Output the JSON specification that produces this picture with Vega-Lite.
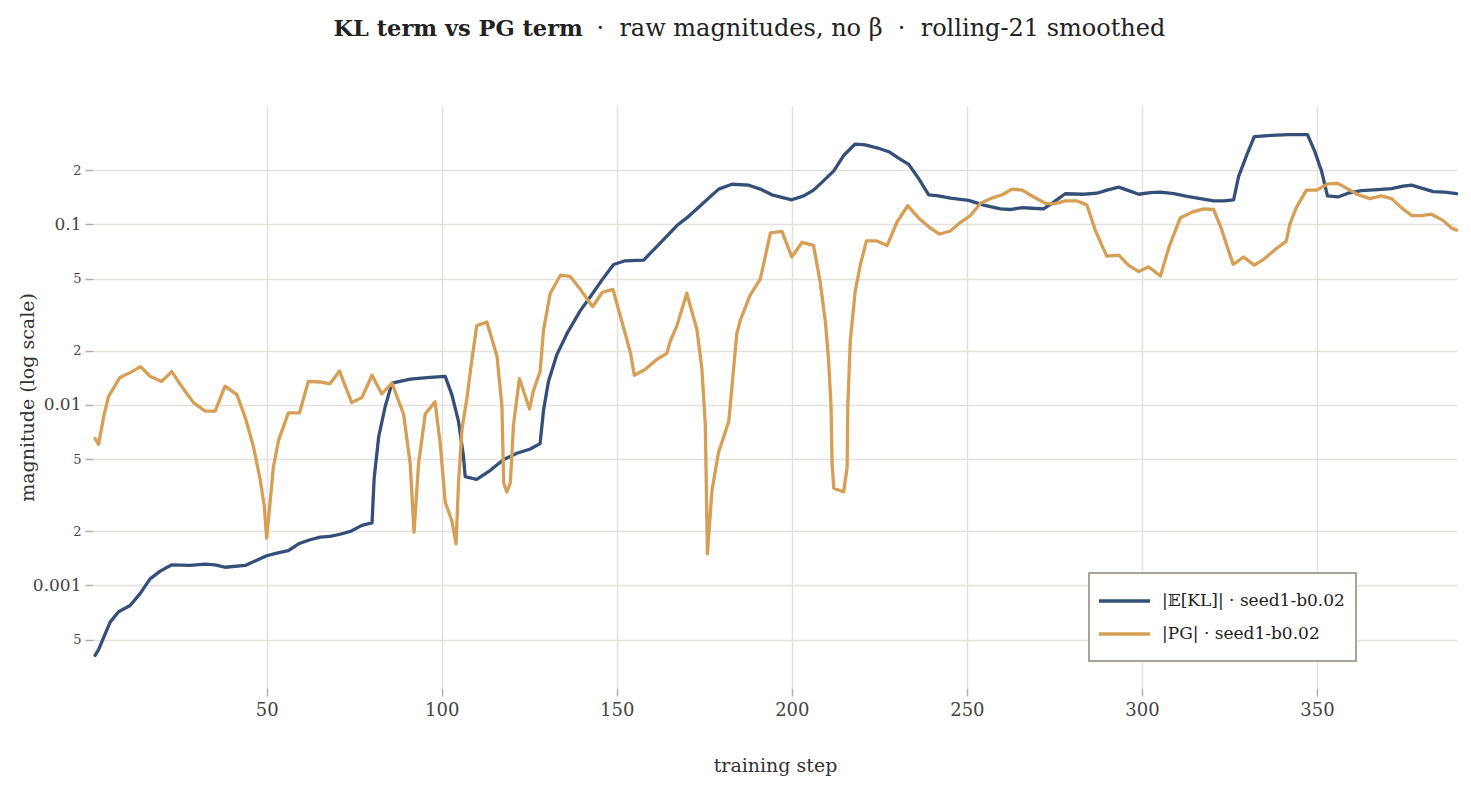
{
  "$schema": "https://vega.github.io/schema/vega-lite/v6.json",
  "width": 1364,
  "height": 582,
  "autosize": {"type": "none"},
  "padding": {"left": 93, "top": 106, "right": 14, "bottom": 100},
  "background": "white",
  "config": {
    "font": "DejaVu Serif",
    "view": {"stroke": null}
  },
  "data": {
    "values": [
      {"step": 1, "v": 0.00041, "s": "|𝔼[KL]| · seed1-b0.02"},
      {"step": 2, "v": 0.00044, "s": "|𝔼[KL]| · seed1-b0.02"},
      {"step": 3.9, "v": 0.00054, "s": "|𝔼[KL]| · seed1-b0.02"},
      {"step": 5.3, "v": 0.000626, "s": "|𝔼[KL]| · seed1-b0.02"},
      {"step": 7.7, "v": 0.000714, "s": "|𝔼[KL]| · seed1-b0.02"},
      {"step": 11, "v": 0.000773, "s": "|𝔼[KL]| · seed1-b0.02"},
      {"step": 13.9, "v": 0.000903, "s": "|𝔼[KL]| · seed1-b0.02"},
      {"step": 16.7, "v": 0.001087, "s": "|𝔼[KL]| · seed1-b0.02"},
      {"step": 19.6, "v": 0.0012, "s": "|𝔼[KL]| · seed1-b0.02"},
      {"step": 22.9, "v": 0.0013, "s": "|𝔼[KL]| · seed1-b0.02"},
      {"step": 28.1, "v": 0.00129, "s": "|𝔼[KL]| · seed1-b0.02"},
      {"step": 32.4, "v": 0.00131, "s": "|𝔼[KL]| · seed1-b0.02"},
      {"step": 35.3, "v": 0.0013, "s": "|𝔼[KL]| · seed1-b0.02"},
      {"step": 38.1, "v": 0.00126, "s": "|𝔼[KL]| · seed1-b0.02"},
      {"step": 43.9, "v": 0.00129, "s": "|𝔼[KL]| · seed1-b0.02"},
      {"step": 47.2, "v": 0.00138, "s": "|𝔼[KL]| · seed1-b0.02"},
      {"step": 50, "v": 0.00146, "s": "|𝔼[KL]| · seed1-b0.02"},
      {"step": 52.9, "v": 0.00151, "s": "|𝔼[KL]| · seed1-b0.02"},
      {"step": 56.2, "v": 0.00156, "s": "|𝔼[KL]| · seed1-b0.02"},
      {"step": 59.1, "v": 0.0017, "s": "|𝔼[KL]| · seed1-b0.02"},
      {"step": 62.4, "v": 0.00179, "s": "|𝔼[KL]| · seed1-b0.02"},
      {"step": 65.3, "v": 0.00185, "s": "|𝔼[KL]| · seed1-b0.02"},
      {"step": 68.1, "v": 0.00187, "s": "|𝔼[KL]| · seed1-b0.02"},
      {"step": 71, "v": 0.00192, "s": "|𝔼[KL]| · seed1-b0.02"},
      {"step": 73.9, "v": 0.00199, "s": "|𝔼[KL]| · seed1-b0.02"},
      {"step": 77.2, "v": 0.00215, "s": "|𝔼[KL]| · seed1-b0.02"},
      {"step": 80.1, "v": 0.00222, "s": "|𝔼[KL]| · seed1-b0.02"},
      {"step": 80.7, "v": 0.0039, "s": "|𝔼[KL]| · seed1-b0.02"},
      {"step": 82, "v": 0.00667, "s": "|𝔼[KL]| · seed1-b0.02"},
      {"step": 83.9, "v": 0.00986, "s": "|𝔼[KL]| · seed1-b0.02"},
      {"step": 85.8, "v": 0.0132, "s": "|𝔼[KL]| · seed1-b0.02"},
      {"step": 91, "v": 0.0139, "s": "|𝔼[KL]| · seed1-b0.02"},
      {"step": 96.7, "v": 0.0142, "s": "|𝔼[KL]| · seed1-b0.02"},
      {"step": 101, "v": 0.0144, "s": "|𝔼[KL]| · seed1-b0.02"},
      {"step": 102.9, "v": 0.0114, "s": "|𝔼[KL]| · seed1-b0.02"},
      {"step": 104.8, "v": 0.0081, "s": "|𝔼[KL]| · seed1-b0.02"},
      {"step": 106.2, "v": 0.00523, "s": "|𝔼[KL]| · seed1-b0.02"},
      {"step": 106.7, "v": 0.004, "s": "|𝔼[KL]| · seed1-b0.02"},
      {"step": 110, "v": 0.00387, "s": "|𝔼[KL]| · seed1-b0.02"},
      {"step": 113.9, "v": 0.00434, "s": "|𝔼[KL]| · seed1-b0.02"},
      {"step": 117.7, "v": 0.00498, "s": "|𝔼[KL]| · seed1-b0.02"},
      {"step": 121.5, "v": 0.0054, "s": "|𝔼[KL]| · seed1-b0.02"},
      {"step": 125.3, "v": 0.0057, "s": "|𝔼[KL]| · seed1-b0.02"},
      {"step": 128.1, "v": 0.0061, "s": "|𝔼[KL]| · seed1-b0.02"},
      {"step": 129.1, "v": 0.0094, "s": "|𝔼[KL]| · seed1-b0.02"},
      {"step": 130.5, "v": 0.0135, "s": "|𝔼[KL]| · seed1-b0.02"},
      {"step": 132.9, "v": 0.019, "s": "|𝔼[KL]| · seed1-b0.02"},
      {"step": 135.8, "v": 0.0249, "s": "|𝔼[KL]| · seed1-b0.02"},
      {"step": 139.6, "v": 0.0333, "s": "|𝔼[KL]| · seed1-b0.02"},
      {"step": 142.4, "v": 0.0396, "s": "|𝔼[KL]| · seed1-b0.02"},
      {"step": 145.8, "v": 0.0493, "s": "|𝔼[KL]| · seed1-b0.02"},
      {"step": 149.1, "v": 0.06, "s": "|𝔼[KL]| · seed1-b0.02"},
      {"step": 152.4, "v": 0.0629, "s": "|𝔼[KL]| · seed1-b0.02"},
      {"step": 157.7, "v": 0.0635, "s": "|𝔼[KL]| · seed1-b0.02"},
      {"step": 161.5, "v": 0.0757, "s": "|𝔼[KL]| · seed1-b0.02"},
      {"step": 167.2, "v": 0.0986, "s": "|𝔼[KL]| · seed1-b0.02"},
      {"step": 170, "v": 0.1087, "s": "|𝔼[KL]| · seed1-b0.02"},
      {"step": 174.8, "v": 0.132, "s": "|𝔼[KL]| · seed1-b0.02"},
      {"step": 179.1, "v": 0.157, "s": "|𝔼[KL]| · seed1-b0.02"},
      {"step": 182.9, "v": 0.167, "s": "|𝔼[KL]| · seed1-b0.02"},
      {"step": 187.7, "v": 0.165, "s": "|𝔼[KL]| · seed1-b0.02"},
      {"step": 191, "v": 0.157, "s": "|𝔼[KL]| · seed1-b0.02"},
      {"step": 194.3, "v": 0.146, "s": "|𝔼[KL]| · seed1-b0.02"},
      {"step": 200, "v": 0.137, "s": "|𝔼[KL]| · seed1-b0.02"},
      {"step": 203.4, "v": 0.144, "s": "|𝔼[KL]| · seed1-b0.02"},
      {"step": 206.2, "v": 0.155, "s": "|𝔼[KL]| · seed1-b0.02"},
      {"step": 208.6, "v": 0.171, "s": "|𝔼[KL]| · seed1-b0.02"},
      {"step": 212, "v": 0.198, "s": "|𝔼[KL]| · seed1-b0.02"},
      {"step": 214.8, "v": 0.241, "s": "|𝔼[KL]| · seed1-b0.02"},
      {"step": 218.1, "v": 0.279, "s": "|𝔼[KL]| · seed1-b0.02"},
      {"step": 221, "v": 0.276, "s": "|𝔼[KL]| · seed1-b0.02"},
      {"step": 224.3, "v": 0.266, "s": "|𝔼[KL]| · seed1-b0.02"},
      {"step": 227.7, "v": 0.253, "s": "|𝔼[KL]| · seed1-b0.02"},
      {"step": 230.5, "v": 0.233, "s": "|𝔼[KL]| · seed1-b0.02"},
      {"step": 233.4, "v": 0.215, "s": "|𝔼[KL]| · seed1-b0.02"},
      {"step": 236.2, "v": 0.18, "s": "|𝔼[KL]| · seed1-b0.02"},
      {"step": 239.1, "v": 0.146, "s": "|𝔼[KL]| · seed1-b0.02"},
      {"step": 241.9, "v": 0.144, "s": "|𝔼[KL]| · seed1-b0.02"},
      {"step": 245.3, "v": 0.14, "s": "|𝔼[KL]| · seed1-b0.02"},
      {"step": 250.5, "v": 0.136, "s": "|𝔼[KL]| · seed1-b0.02"},
      {"step": 254.8, "v": 0.128, "s": "|𝔼[KL]| · seed1-b0.02"},
      {"step": 259.6, "v": 0.122, "s": "|𝔼[KL]| · seed1-b0.02"},
      {"step": 262.4, "v": 0.121, "s": "|𝔼[KL]| · seed1-b0.02"},
      {"step": 265.8, "v": 0.124, "s": "|𝔼[KL]| · seed1-b0.02"},
      {"step": 268.6, "v": 0.123, "s": "|𝔼[KL]| · seed1-b0.02"},
      {"step": 271.9, "v": 0.122, "s": "|𝔼[KL]| · seed1-b0.02"},
      {"step": 274.8, "v": 0.133, "s": "|𝔼[KL]| · seed1-b0.02"},
      {"step": 278.1, "v": 0.148, "s": "|𝔼[KL]| · seed1-b0.02"},
      {"step": 283.4, "v": 0.147, "s": "|𝔼[KL]| · seed1-b0.02"},
      {"step": 287.2, "v": 0.149, "s": "|𝔼[KL]| · seed1-b0.02"},
      {"step": 290, "v": 0.155, "s": "|𝔼[KL]| · seed1-b0.02"},
      {"step": 293.4, "v": 0.161, "s": "|𝔼[KL]| · seed1-b0.02"},
      {"step": 296.2, "v": 0.154, "s": "|𝔼[KL]| · seed1-b0.02"},
      {"step": 299.1, "v": 0.147, "s": "|𝔼[KL]| · seed1-b0.02"},
      {"step": 302.4, "v": 0.15, "s": "|𝔼[KL]| · seed1-b0.02"},
      {"step": 305.3, "v": 0.151, "s": "|𝔼[KL]| · seed1-b0.02"},
      {"step": 309.1, "v": 0.148, "s": "|𝔼[KL]| · seed1-b0.02"},
      {"step": 312.9, "v": 0.143, "s": "|𝔼[KL]| · seed1-b0.02"},
      {"step": 316.7, "v": 0.139, "s": "|𝔼[KL]| · seed1-b0.02"},
      {"step": 320.5, "v": 0.135, "s": "|𝔼[KL]| · seed1-b0.02"},
      {"step": 323.4, "v": 0.135, "s": "|𝔼[KL]| · seed1-b0.02"},
      {"step": 326.2, "v": 0.137, "s": "|𝔼[KL]| · seed1-b0.02"},
      {"step": 327.6, "v": 0.184, "s": "|𝔼[KL]| · seed1-b0.02"},
      {"step": 330.1, "v": 0.247, "s": "|𝔼[KL]| · seed1-b0.02"},
      {"step": 332.1, "v": 0.307, "s": "|𝔼[KL]| · seed1-b0.02"},
      {"step": 337, "v": 0.312, "s": "|𝔼[KL]| · seed1-b0.02"},
      {"step": 341.8, "v": 0.315, "s": "|𝔼[KL]| · seed1-b0.02"},
      {"step": 347.3, "v": 0.315, "s": "|𝔼[KL]| · seed1-b0.02"},
      {"step": 349.4, "v": 0.253, "s": "|𝔼[KL]| · seed1-b0.02"},
      {"step": 351.3, "v": 0.198, "s": "|𝔼[KL]| · seed1-b0.02"},
      {"step": 353, "v": 0.144, "s": "|𝔼[KL]| · seed1-b0.02"},
      {"step": 356, "v": 0.142, "s": "|𝔼[KL]| · seed1-b0.02"},
      {"step": 358.9, "v": 0.149, "s": "|𝔼[KL]| · seed1-b0.02"},
      {"step": 362.7, "v": 0.154, "s": "|𝔼[KL]| · seed1-b0.02"},
      {"step": 367.5, "v": 0.156, "s": "|𝔼[KL]| · seed1-b0.02"},
      {"step": 371.3, "v": 0.158, "s": "|𝔼[KL]| · seed1-b0.02"},
      {"step": 374.6, "v": 0.163, "s": "|𝔼[KL]| · seed1-b0.02"},
      {"step": 377, "v": 0.165, "s": "|𝔼[KL]| · seed1-b0.02"},
      {"step": 379.9, "v": 0.159, "s": "|𝔼[KL]| · seed1-b0.02"},
      {"step": 383.2, "v": 0.152, "s": "|𝔼[KL]| · seed1-b0.02"},
      {"step": 386.5, "v": 0.151, "s": "|𝔼[KL]| · seed1-b0.02"},
      {"step": 389.9, "v": 0.148, "s": "|𝔼[KL]| · seed1-b0.02"},

      {"step": 1, "v": 0.00652, "s": "|PG| · seed1-b0.02"},
      {"step": 2, "v": 0.00605, "s": "|PG| · seed1-b0.02"},
      {"step": 3.4, "v": 0.0085, "s": "|PG| · seed1-b0.02"},
      {"step": 4.8, "v": 0.0111, "s": "|PG| · seed1-b0.02"},
      {"step": 8.1, "v": 0.0142, "s": "|PG| · seed1-b0.02"},
      {"step": 11, "v": 0.0151, "s": "|PG| · seed1-b0.02"},
      {"step": 14, "v": 0.0163, "s": "|PG| · seed1-b0.02"},
      {"step": 16.7, "v": 0.0144, "s": "|PG| · seed1-b0.02"},
      {"step": 20, "v": 0.0135, "s": "|PG| · seed1-b0.02"},
      {"step": 22.9, "v": 0.0153, "s": "|PG| · seed1-b0.02"},
      {"step": 25.8, "v": 0.0126, "s": "|PG| · seed1-b0.02"},
      {"step": 29.1, "v": 0.0103, "s": "|PG| · seed1-b0.02"},
      {"step": 32.4, "v": 0.00925, "s": "|PG| · seed1-b0.02"},
      {"step": 35.3, "v": 0.00925, "s": "|PG| · seed1-b0.02"},
      {"step": 38.1, "v": 0.0127, "s": "|PG| · seed1-b0.02"},
      {"step": 41.5, "v": 0.0114, "s": "|PG| · seed1-b0.02"},
      {"step": 43.9, "v": 0.0085, "s": "|PG| · seed1-b0.02"},
      {"step": 46.2, "v": 0.0059, "s": "|PG| · seed1-b0.02"},
      {"step": 48.1, "v": 0.0039, "s": "|PG| · seed1-b0.02"},
      {"step": 49.3, "v": 0.00277, "s": "|PG| · seed1-b0.02"},
      {"step": 50, "v": 0.00183, "s": "|PG| · seed1-b0.02"},
      {"step": 51, "v": 0.0029, "s": "|PG| · seed1-b0.02"},
      {"step": 51.9, "v": 0.0045, "s": "|PG| · seed1-b0.02"},
      {"step": 53.4, "v": 0.00636, "s": "|PG| · seed1-b0.02"},
      {"step": 56.2, "v": 0.00903, "s": "|PG| · seed1-b0.02"},
      {"step": 59.4, "v": 0.00903, "s": "|PG| · seed1-b0.02"},
      {"step": 61.9, "v": 0.0135, "s": "|PG| · seed1-b0.02"},
      {"step": 65.3, "v": 0.0134, "s": "|PG| · seed1-b0.02"},
      {"step": 68.1, "v": 0.0131, "s": "|PG| · seed1-b0.02"},
      {"step": 70.8, "v": 0.0154, "s": "|PG| · seed1-b0.02"},
      {"step": 74.3, "v": 0.0103, "s": "|PG| · seed1-b0.02"},
      {"step": 77.2, "v": 0.011, "s": "|PG| · seed1-b0.02"},
      {"step": 80.1, "v": 0.0146, "s": "|PG| · seed1-b0.02"},
      {"step": 82.9, "v": 0.0115, "s": "|PG| · seed1-b0.02"},
      {"step": 85.8, "v": 0.0132, "s": "|PG| · seed1-b0.02"},
      {"step": 89.1, "v": 0.0089, "s": "|PG| · seed1-b0.02"},
      {"step": 91, "v": 0.00474, "s": "|PG| · seed1-b0.02"},
      {"step": 92.1, "v": 0.00197, "s": "|PG| · seed1-b0.02"},
      {"step": 93.4, "v": 0.00474, "s": "|PG| · seed1-b0.02"},
      {"step": 95.3, "v": 0.0089, "s": "|PG| · seed1-b0.02"},
      {"step": 98.1, "v": 0.0104, "s": "|PG| · seed1-b0.02"},
      {"step": 99.6, "v": 0.00605, "s": "|PG| · seed1-b0.02"},
      {"step": 101, "v": 0.0029, "s": "|PG| · seed1-b0.02"},
      {"step": 102.9, "v": 0.00228, "s": "|PG| · seed1-b0.02"},
      {"step": 104.1, "v": 0.0017, "s": "|PG| · seed1-b0.02"},
      {"step": 104.8, "v": 0.0037, "s": "|PG| · seed1-b0.02"},
      {"step": 105.8, "v": 0.00736, "s": "|PG| · seed1-b0.02"},
      {"step": 107.2, "v": 0.0109, "s": "|PG| · seed1-b0.02"},
      {"step": 108.6, "v": 0.0177, "s": "|PG| · seed1-b0.02"},
      {"step": 110, "v": 0.0275, "s": "|PG| · seed1-b0.02"},
      {"step": 112.9, "v": 0.0288, "s": "|PG| · seed1-b0.02"},
      {"step": 115.8, "v": 0.0186, "s": "|PG| · seed1-b0.02"},
      {"step": 117.2, "v": 0.00986, "s": "|PG| · seed1-b0.02"},
      {"step": 117.7, "v": 0.0037, "s": "|PG| · seed1-b0.02"},
      {"step": 118.6, "v": 0.00329, "s": "|PG| · seed1-b0.02"},
      {"step": 119.6, "v": 0.0037, "s": "|PG| · seed1-b0.02"},
      {"step": 120.5, "v": 0.00773, "s": "|PG| · seed1-b0.02"},
      {"step": 122.2, "v": 0.014, "s": "|PG| · seed1-b0.02"},
      {"step": 125.1, "v": 0.0095, "s": "|PG| · seed1-b0.02"},
      {"step": 126.2, "v": 0.012, "s": "|PG| · seed1-b0.02"},
      {"step": 128.1, "v": 0.0153, "s": "|PG| · seed1-b0.02"},
      {"step": 129.1, "v": 0.0261, "s": "|PG| · seed1-b0.02"},
      {"step": 131, "v": 0.0416, "s": "|PG| · seed1-b0.02"},
      {"step": 133.9, "v": 0.0523, "s": "|PG| · seed1-b0.02"},
      {"step": 136.7, "v": 0.0515, "s": "|PG| · seed1-b0.02"},
      {"step": 139.6, "v": 0.0437, "s": "|PG| · seed1-b0.02"},
      {"step": 143.1, "v": 0.035, "s": "|PG| · seed1-b0.02"},
      {"step": 145.9, "v": 0.0421, "s": "|PG| · seed1-b0.02"},
      {"step": 148.9, "v": 0.0437, "s": "|PG| · seed1-b0.02"},
      {"step": 151.5, "v": 0.0288, "s": "|PG| · seed1-b0.02"},
      {"step": 153.9, "v": 0.0195, "s": "|PG| · seed1-b0.02"},
      {"step": 155, "v": 0.0146, "s": "|PG| · seed1-b0.02"},
      {"step": 158.1, "v": 0.0157, "s": "|PG| · seed1-b0.02"},
      {"step": 161.5, "v": 0.0179, "s": "|PG| · seed1-b0.02"},
      {"step": 164.3, "v": 0.0193, "s": "|PG| · seed1-b0.02"},
      {"step": 165.3, "v": 0.0226, "s": "|PG| · seed1-b0.02"},
      {"step": 167.2, "v": 0.0275, "s": "|PG| · seed1-b0.02"},
      {"step": 170, "v": 0.0416, "s": "|PG| · seed1-b0.02"},
      {"step": 172.9, "v": 0.0261, "s": "|PG| · seed1-b0.02"},
      {"step": 174.3, "v": 0.016, "s": "|PG| · seed1-b0.02"},
      {"step": 175.3, "v": 0.00773, "s": "|PG| · seed1-b0.02"},
      {"step": 175.9, "v": 0.0015, "s": "|PG| · seed1-b0.02"},
      {"step": 177.2, "v": 0.00337, "s": "|PG| · seed1-b0.02"},
      {"step": 179.1, "v": 0.00548, "s": "|PG| · seed1-b0.02"},
      {"step": 182, "v": 0.0081, "s": "|PG| · seed1-b0.02"},
      {"step": 182.9, "v": 0.0126, "s": "|PG| · seed1-b0.02"},
      {"step": 184.3, "v": 0.0249, "s": "|PG| · seed1-b0.02"},
      {"step": 185.3, "v": 0.0295, "s": "|PG| · seed1-b0.02"},
      {"step": 188.1, "v": 0.0406, "s": "|PG| · seed1-b0.02"},
      {"step": 191, "v": 0.0498, "s": "|PG| · seed1-b0.02"},
      {"step": 193.9, "v": 0.0898, "s": "|PG| · seed1-b0.02"},
      {"step": 197.2, "v": 0.0915, "s": "|PG| · seed1-b0.02"},
      {"step": 200, "v": 0.066, "s": "|PG| · seed1-b0.02"},
      {"step": 202.9, "v": 0.0795, "s": "|PG| · seed1-b0.02"},
      {"step": 206.2, "v": 0.0766, "s": "|PG| · seed1-b0.02"},
      {"step": 208.1, "v": 0.048, "s": "|PG| · seed1-b0.02"},
      {"step": 209.6, "v": 0.0288, "s": "|PG| · seed1-b0.02"},
      {"step": 210.5, "v": 0.0177, "s": "|PG| · seed1-b0.02"},
      {"step": 211.2, "v": 0.0099, "s": "|PG| · seed1-b0.02"},
      {"step": 211.5, "v": 0.00475, "s": "|PG| · seed1-b0.02"},
      {"step": 212, "v": 0.00345, "s": "|PG| · seed1-b0.02"},
      {"step": 214.8, "v": 0.00329, "s": "|PG| · seed1-b0.02"},
      {"step": 215.8, "v": 0.0045, "s": "|PG| · seed1-b0.02"},
      {"step": 216, "v": 0.0099, "s": "|PG| · seed1-b0.02"},
      {"step": 216.7, "v": 0.0226, "s": "|PG| · seed1-b0.02"},
      {"step": 218.1, "v": 0.0426, "s": "|PG| · seed1-b0.02"},
      {"step": 219.6, "v": 0.06, "s": "|PG| · seed1-b0.02"},
      {"step": 221.3, "v": 0.081, "s": "|PG| · seed1-b0.02"},
      {"step": 224.3, "v": 0.081, "s": "|PG| · seed1-b0.02"},
      {"step": 227.2, "v": 0.0764, "s": "|PG| · seed1-b0.02"},
      {"step": 230.1, "v": 0.1035, "s": "|PG| · seed1-b0.02"},
      {"step": 233.1, "v": 0.127, "s": "|PG| · seed1-b0.02"},
      {"step": 236.2, "v": 0.1087, "s": "|PG| · seed1-b0.02"},
      {"step": 239.6, "v": 0.0953, "s": "|PG| · seed1-b0.02"},
      {"step": 242.2, "v": 0.0885, "s": "|PG| · seed1-b0.02"},
      {"step": 245.3, "v": 0.092, "s": "|PG| · seed1-b0.02"},
      {"step": 248.1, "v": 0.1025, "s": "|PG| · seed1-b0.02"},
      {"step": 251, "v": 0.112, "s": "|PG| · seed1-b0.02"},
      {"step": 253.9, "v": 0.131, "s": "|PG| · seed1-b0.02"},
      {"step": 256.7, "v": 0.139, "s": "|PG| · seed1-b0.02"},
      {"step": 260.1, "v": 0.146, "s": "|PG| · seed1-b0.02"},
      {"step": 262.9, "v": 0.157, "s": "|PG| · seed1-b0.02"},
      {"step": 265.8, "v": 0.155, "s": "|PG| · seed1-b0.02"},
      {"step": 269.1, "v": 0.142, "s": "|PG| · seed1-b0.02"},
      {"step": 272.4, "v": 0.131, "s": "|PG| · seed1-b0.02"},
      {"step": 274.8, "v": 0.13, "s": "|PG| · seed1-b0.02"},
      {"step": 278.1, "v": 0.135, "s": "|PG| · seed1-b0.02"},
      {"step": 281.5, "v": 0.135, "s": "|PG| · seed1-b0.02"},
      {"step": 284.3, "v": 0.128, "s": "|PG| · seed1-b0.02"},
      {"step": 286.7, "v": 0.0929, "s": "|PG| · seed1-b0.02"},
      {"step": 288.6, "v": 0.0764, "s": "|PG| · seed1-b0.02"},
      {"step": 290, "v": 0.0667, "s": "|PG| · seed1-b0.02"},
      {"step": 293.4, "v": 0.0676, "s": "|PG| · seed1-b0.02"},
      {"step": 296.2, "v": 0.0593, "s": "|PG| · seed1-b0.02"},
      {"step": 299.1, "v": 0.0548, "s": "|PG| · seed1-b0.02"},
      {"step": 301.9, "v": 0.0582, "s": "|PG| · seed1-b0.02"},
      {"step": 305.3, "v": 0.0518, "s": "|PG| · seed1-b0.02"},
      {"step": 307.7, "v": 0.0746, "s": "|PG| · seed1-b0.02"},
      {"step": 311, "v": 0.109, "s": "|PG| · seed1-b0.02"},
      {"step": 314.3, "v": 0.117, "s": "|PG| · seed1-b0.02"},
      {"step": 317.7, "v": 0.122, "s": "|PG| · seed1-b0.02"},
      {"step": 320.5, "v": 0.121, "s": "|PG| · seed1-b0.02"},
      {"step": 322.5, "v": 0.097, "s": "|PG| · seed1-b0.02"},
      {"step": 324.3, "v": 0.076, "s": "|PG| · seed1-b0.02"},
      {"step": 326.1, "v": 0.06, "s": "|PG| · seed1-b0.02"},
      {"step": 329, "v": 0.066, "s": "|PG| · seed1-b0.02"},
      {"step": 332.1, "v": 0.0595, "s": "|PG| · seed1-b0.02"},
      {"step": 335, "v": 0.0645, "s": "|PG| · seed1-b0.02"},
      {"step": 338, "v": 0.0725, "s": "|PG| · seed1-b0.02"},
      {"step": 341.2, "v": 0.0805, "s": "|PG| · seed1-b0.02"},
      {"step": 342.3, "v": 0.101, "s": "|PG| · seed1-b0.02"},
      {"step": 344.1, "v": 0.124, "s": "|PG| · seed1-b0.02"},
      {"step": 347, "v": 0.155, "s": "|PG| · seed1-b0.02"},
      {"step": 349.9, "v": 0.155, "s": "|PG| · seed1-b0.02"},
      {"step": 353.2, "v": 0.168, "s": "|PG| · seed1-b0.02"},
      {"step": 356, "v": 0.169, "s": "|PG| · seed1-b0.02"},
      {"step": 358.9, "v": 0.157, "s": "|PG| · seed1-b0.02"},
      {"step": 361.8, "v": 0.146, "s": "|PG| · seed1-b0.02"},
      {"step": 365.1, "v": 0.139, "s": "|PG| · seed1-b0.02"},
      {"step": 368.4, "v": 0.144, "s": "|PG| · seed1-b0.02"},
      {"step": 371.3, "v": 0.139, "s": "|PG| · seed1-b0.02"},
      {"step": 374.1, "v": 0.124, "s": "|PG| · seed1-b0.02"},
      {"step": 377, "v": 0.112, "s": "|PG| · seed1-b0.02"},
      {"step": 379.9, "v": 0.112, "s": "|PG| · seed1-b0.02"},
      {"step": 382.7, "v": 0.114, "s": "|PG| · seed1-b0.02"},
      {"step": 386.1, "v": 0.105, "s": "|PG| · seed1-b0.02"},
      {"step": 388.5, "v": 0.0953, "s": "|PG| · seed1-b0.02"},
      {"step": 389.9, "v": 0.093, "s": "|PG| · seed1-b0.02"}
    ]
  },
  "resolve": {"axis": {"x": "independent", "y": "independent"}},
  "layer": [
    {
      "mark": {"type": "line", "strokeWidth": 3.3, "strokeJoin": "round", "strokeCap": "round", "interpolate": "linear"},
      "encoding": {
        "x": {
          "field": "step",
          "type": "quantitative",
          "scale": {"domain": [0.4, 390], "nice": false, "zero": false},
          "axis": {
            "title": "training step",
            "values": [50, 100, 150, 200, 250, 300, 350],
            "domain": false,
            "grid": true,
            "gridColor": "#e4e1dc",
            "gridWidth": 1.5,
            "ticks": true,
            "tickSize": 8,
            "tickColor": "#b5aea6",
            "tickWidth": 1.5,
            "labelFontSize": 18,
            "labelColor": "#444444",
            "labelPadding": 5,
            "titleFontSize": 19,
            "titleFontWeight": "normal",
            "titleColor": "#333333",
            "titlePadding": 37
          }
        },
        "y": {
          "field": "v",
          "type": "quantitative",
          "scale": {"type": "log", "domain": [0.00027, 0.4533], "nice": false},
          "axis": {
            "title": "magnitude (log scale)",
            "values": [0.0005, 0.001, 0.002, 0.005, 0.01, 0.02, 0.05, 0.1, 0.2],
            "labelExpr": "datum.value == 0.001 ? '0.001' : datum.value == 0.01 ? '0.01' : datum.value == 0.1 ? '0.1' : (datum.value == 0.002 || datum.value == 0.02 || datum.value == 0.2) ? '2' : '5'",
            "labelFontSize": {"condition": {"test": "datum.value == 0.001 || datum.value == 0.01 || datum.value == 0.1", "value": 17}, "value": 13},
            "domain": false,
            "grid": true,
            "gridColor": "#e4e1dc",
            "gridWidth": 1.5,
            "ticks": true,
            "tickSize": 8,
            "tickColor": "#b5aea6",
            "tickWidth": 1.5,
            "labelColor": "#444444",
            "labelPadding": 4,
            "titleFontSize": 19,
            "titleFontWeight": "normal",
            "titleColor": "#333333",
            "titlePadding": -5
          }
        },
        "color": {
          "field": "s",
          "type": "nominal",
          "sort": ["|𝔼[KL]| · seed1-b0.02", "|PG| · seed1-b0.02"],
          "scale": {"domain": ["|𝔼[KL]| · seed1-b0.02", "|PG| · seed1-b0.02"], "range": ["#34507a", "#d69f55"]},
          "legend": {
            "title": null,
            "orient": "none",
            "legendX": 996,
            "legendY": 467,
            "symbolType": "M-1.2,-0.57M-1.2,0H2.2M-1.2,0.57",
            "symbolSize": 900,
            "symbolStrokeWidth": 3.3,
            "labelFontSize": 17,
            "labelLimit": 600,
            "labelColor": "#222222",
            "labelOffset": 28,
            "strokeColor": "#aaa398",
            "fillColor": "white",
            "padding": 11,
            "rowPadding": 0,
            "encode": {"legend": {"update": {"strokeWidth": {"value": 2}}}}
          }
        }
      }
    },
    {
      "transform": [{"filter": "false"}],
      "mark": {"type": "point"},
      "encoding": {
        "x": {
          "field": "step",
          "type": "quantitative",
          "axis": {
            "orient": "top",
            "title": "KL term vs PG term",
            "domain": false,
            "ticks": false,
            "labels": false,
            "grid": false,
            "titleFontSize": 22.5,
            "titleFontWeight": "bold",
            "titleColor": "#222222",
            "titleAngle": 0,
            "titleAlign": "left",
            "titleAnchor": null,
            "titleBaseline": "alphabetic",
            "titleX": 240,
            "titleY": -71
          }
        },
        "y": {
          "field": "v",
          "type": "quantitative",
          "axis": {
            "orient": "right",
            "title": "·\u00a0\u00a0raw magnitudes, no β\u00a0\u00a0·\u00a0\u00a0rolling-21 smoothed",
            "domain": false,
            "ticks": false,
            "labels": false,
            "grid": false,
            "titleFontSize": 24,
            "titleFontWeight": "normal",
            "titleColor": "#222222",
            "titleAngle": 0,
            "titleAlign": "left",
            "titleBaseline": "alphabetic",
            "titleX": -861,
            "titleY": -71
          }
        }
      }
    }
  ]
}
